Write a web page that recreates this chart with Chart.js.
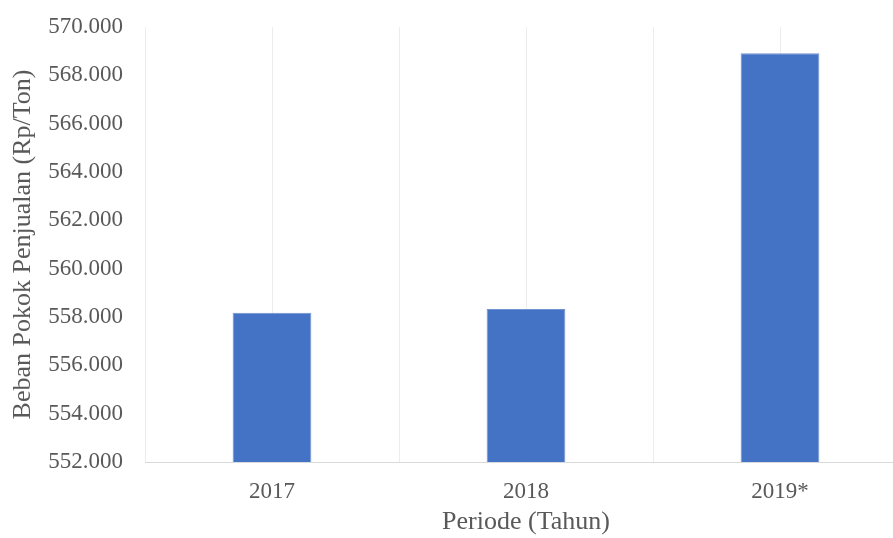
<!DOCTYPE html>
<html>
<head>
<meta charset="utf-8">
<script src="https://cdn.jsdelivr.net/npm/chart.js@4/dist/chart.umd.min.js"></script>
<style>
  html, body { margin: 0; padding: 0; background: #fff; overflow: hidden; }
  #wrap { width: 910px; height: 538px; }
</style>
</head>
<body>
<div id="wrap"><canvas id="chart"></canvas></div>
<script>
// data
var periods = ['2017', '2018', '2019*'];
var cogs = [558180, 558330, 568910];
var yMin = 552000;
var yMax = 570000;
var yStep = 2000;

var textColor = '#595959';
var serif = "'Liberation Serif', 'Times New Roman', serif";

function dots(v) {
    return String(v).replace(/\B(?=(\d{3})+(?!\d))/g, '.');
}

let ctx = document.getElementById('chart').getContext('2d');

let barChart = new Chart(ctx, {
    type: 'bar',
    data: {
        labels: periods,
        datasets: [{
            label: 'Beban Pokok Penjualan',
            data: cogs,
            backgroundColor: '#4472C4',
            borderColor: '#6f93d3',
            borderWidth: 1,
            categoryPercentage: 1,
            barPercentage: 0.31
        }]
    },
    options: {
        responsive: true,
        maintainAspectRatio: false,
        animation: false,
        layout: { padding: { top: 27, right: 3, left: 0, bottom: 0 } },
        plugins: {
            legend: { display: false },
            tooltip: { enabled: false }
        },
        scales: {
            x: {
                position: 'bottom',
                offset: true,
                grid: { offset: false, color: '#ececec', drawTicks: false },
                border: { display: true, color: '#d9d9d9', width: 1 },
                ticks: { color: textColor, font: { family: serif, size: 23 }, padding: 16 },
                title: {
                    display: true,
                    text: 'Periode (Tahun)',
                    color: textColor,
                    font: { family: serif, size: 26 },
                    padding: { top: 0, bottom: 0 }
                },
                afterFit: function (scale) { scale.height = 76; }
            },
            x2: {
                type: 'category',
                labels: periods,
                position: 'bottom',
                offset: true,
                grid: { offset: true, color: '#ececec', drawTicks: false },
                border: { display: false },
                ticks: { display: false },
                afterFit: function (scale) { scale.height = 0; }
            },
            y: {
                min: yMin,
                max: yMax,
                grid: { display: false, drawTicks: false },
                border: { display: false },
                ticks: {
                    stepSize: yStep,
                    color: textColor,
                    font: { family: serif, size: 23 },
                    padding: 22,
                    callback: function (v) { return dots(v); }
                },
                title: {
                    display: true,
                    text: 'Beban Pokok Penjualan (Rp/Ton)',
                    color: textColor,
                    font: { family: serif, size: 26 },
                    padding: { top: 8, bottom: 0 }
                },
                afterFit: function (scale) {
                    scale.width = 145;
                    scale.paddingTop = 0;
                    scale.paddingBottom = 0;
                }
            }
        }
    }
});
</script>
</body>
</html>
